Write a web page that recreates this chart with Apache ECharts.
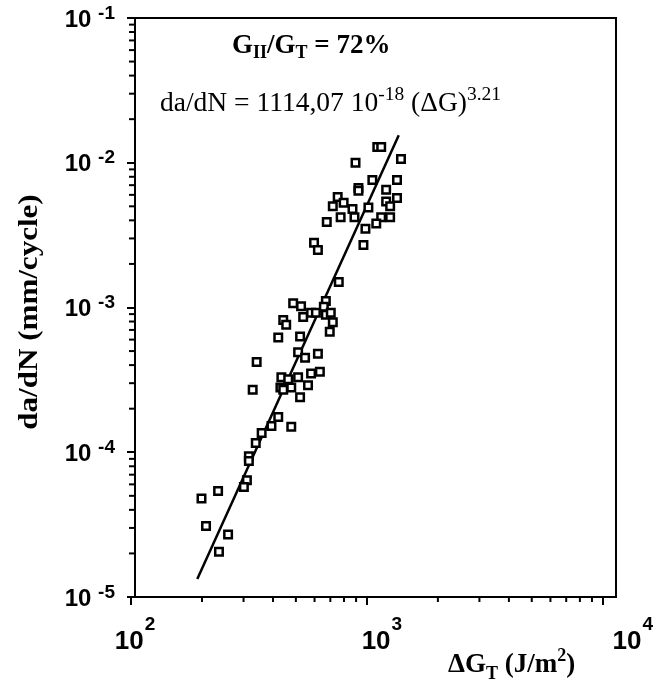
<!DOCTYPE html>
<html>
<head>
<meta charset="utf-8">
<script src="https://cdn.jsdelivr.net/npm/echarts@6/dist/echarts.min.js"></script>
<style>
html,body{margin:0;padding:0;background:#fff;}
#chart{width:656px;height:685px;}
</style>
</head>
<body>
<div id="chart"></div>
<script>
// Measured points: ΔG_T (J/m²) and da/dN (mm/cycle)
const deltaG = [
  1107, 1150, 1395, 895, 1055, 1342, 921, 921, 1207, 1342, 1207, 1255, 1015,
  752, 797, 869, 717, 774, 886, 1150, 1255, 1096, 986, 967, 676, 597, 620,
  760, 670, 657,
  487, 526, 442, 455, 421, 537, 580, 608, 670, 703, 717, 696, 521, 511, 547,
  620, 580, 632, 434, 464, 511, 563, 430, 442, 478, 521, 421, 478, 341, 328,
  394, 358, 338, 316, 316, 310, 301, 234, 199, 208, 258, 236
];
const dadN = [
  0.01285, 0.01285, 0.0106, 0.0100, 0.0076, 0.0076, 0.0067, 0.0064, 0.0065, 0.0057, 0.0054, 0.0050, 0.0049,
  0.0058, 0.0053, 0.0048, 0.0050, 0.0042, 0.0042, 0.0042, 0.0042, 0.0038, 0.0035, 0.0027, 0.0039, 0.0028, 0.0025,
  0.0015, 0.00111, 0.00101,
  0.00107, 0.00102, 0.00082, 0.00076, 0.00062, 0.00086, 0.00092, 0.00092, 0.00089, 0.00092, 0.00079, 0.00068, 0.00063, 0.00049, 0.00045,
  0.00048, 0.00035, 0.00036, 0.00033, 0.00032, 0.00033, 0.00029, 0.00028, 0.00027, 0.00028, 0.00024, 0.000175, 0.00015, 0.00042, 0.00027,
  0.000152, 0.000136, 0.000116, 0.000094, 0.000087, 0.000064, 0.0000575, 0.000054, 0.000048, 0.000031, 0.000027, 0.0000205
];
// Fitted power-law line end points
const fitG = [191, 1365];
const fitRate = [1.33e-5, 0.0155];
// Axis ranges and minor ticks
const xRange = [100, 10000];
const yRange = [1e-5, 1e-1];
const xMinor = [200,300,400,500,600,700,800,900,2000,3000,4000,5000,6000,7000,8000,9000];
const yMinor = [];
[1e-5,1e-4,1e-3,1e-2].forEach(function(d){ for (let k=2;k<=9;k++) yMinor.push(d*k); });

const chart = echarts.init(document.getElementById('chart'), null, {renderer:'canvas'});

const points = deltaG.map((g,i)=>[g, dadN[i]]);
const fitLine = fitG.map((g,i)=>[g, fitRate[i]]);

const sansBold = {fontFamily:'Liberation Sans', fontWeight:'bold', color:'#000'};
const serif = 'Liberation Serif';
const Y_AXIS_SHIFT = 4;

chart.setOption({
  animation:false,
  backgroundColor:'#fff',
  grid:{left:131, top:18, width:477, height:579, show:false},
  xAxis:{
    type:'log', logBase:10, min:xRange[0], max:xRange[1],
    axisLine:{show:false},
    axisTick:{show:true, inside:false, length:8, lineStyle:{color:'#000', width:2}},
    splitLine:{show:false},
    axisLabel:{
      margin:18,
      formatter: function(v){
        const e = Math.round(Math.log10(v));
        return '{b' + e + '|10}{e|' + e + '}';
      },
      rich:{
        b2:Object.assign({fontSize:26, lineHeight:40, verticalAlign:'bottom', padding:[0,0,0,8]}, sansBold),
        b3:Object.assign({fontSize:26, lineHeight:40, verticalAlign:'bottom', padding:[0,0,0,30]}, sansBold),
        b4:Object.assign({fontSize:26, lineHeight:40, verticalAlign:'bottom', padding:[0,0,0,60]}, sansBold),
        e:Object.assign({fontSize:19, verticalAlign:'top', padding:[0,0,0,1]}, sansBold)
      }
    }
  },
  yAxis:{
    type:'log', logBase:10, min:yRange[0], max:yRange[1],
    offset:-Y_AXIS_SHIFT,
    axisLine:{show:false},
    axisTick:{show:true, inside:false, length:8, lineStyle:{color:'#000', width:2}},
    splitLine:{show:false},
    axisLabel:{
      margin:20,
      formatter: function(v){ return '{b|10 }{e|' + Math.round(Math.log10(v)) + '}'; },
      rich:{
        b:Object.assign({fontSize:24, lineHeight:28, verticalAlign:'bottom'}, sansBold),
        e:Object.assign({fontSize:19, verticalAlign:'top'}, sansBold)
      }
    }
  },
  series:[
    {
      type:'custom',
      coordinateSystem:'cartesian2d',
      clip:false,
      silent:true,
      z:1,
      data: xMinor.map(v=>[v, yRange[0]]).concat(yMinor.map(v=>[xRange[0], v])),
      renderItem:function(params, api){
        const i = params.dataIndex;
        const p = api.coord([api.value(0), api.value(1)]);
        let shape;
        if (i < xMinor.length) shape = {x1:p[0], y1:p[1], x2:p[0], y2:p[1]+5};
        else shape = {x1:p[0]+Y_AXIS_SHIFT, y1:p[1], x2:p[0]+Y_AXIS_SHIFT-6, y2:p[1]};
        return {type:'line', shape:shape, style:{stroke:'#000', lineWidth:2}};
      }
    },
    {
      type:'line',
      data: fitLine,
      symbol:'none',
      lineStyle:{color:'#000', width:2.5},
      z:2
    },
    {
      type:'scatter',
      data: points,
      symbol:'rect',
      symbolSize:7.5,
      itemStyle:{color:'#fff', borderColor:'#000', borderWidth:2.5, opacity:1},
      z:3
    }
  ],
  graphic:[
    {
      type:'rect', z:0, silent:true,
      shape:{x:135, y:18, width:481, height:579},
      style:{fill:'none', stroke:'#000', lineWidth:2}
    },
    {
      type:'text', x:232, y:46, z:10,
      style:{
        text:'{a|G}{s|II}{a|/G}{s|T}{a| = 72%}',
        align:'left', verticalAlign:'middle',
        rich:{
          a:{fontFamily:serif, fontWeight:'bold', fontSize:27, lineHeight:33, verticalAlign:'middle', fill:'#000'},
          s:{fontFamily:serif, fontWeight:'bold', fontSize:18, verticalAlign:'bottom', fill:'#000'}
        }
      }
    },
    {
      type:'text', x:160, y:104, z:10,
      style:{
        text:'{a|da/dN = 1114,07 10}{p|-18}{a| (ΔG)}{p|3.21}',
        align:'left', verticalAlign:'middle',
        rich:{
          a:{fontFamily:serif, fontSize:27.5, lineHeight:38, verticalAlign:'middle', fill:'#000'},
          p:{fontFamily:serif, fontSize:19.5, verticalAlign:'top', fill:'#000'}
        }
      }
    },
    {
      type:'text', x:30, y:312, z:10,
      rotation:Math.PI/2,
      scaleX:1.15,
      style:{
        text:'da/dN (mm/cycle)',
        align:'center', verticalAlign:'middle',
        fontFamily:serif, fontWeight:'bold', fontSize:27, fill:'#000'
      }
    },
    {
      type:'text', x:448, y:665, z:10,
      style:{
        text:'{a|ΔG}{s|T}{a| (J/m}{p|2}{a|)}',
        align:'left', verticalAlign:'middle',
        rich:{
          a:{fontFamily:serif, fontWeight:'bold', fontSize:27, lineHeight:36, verticalAlign:'middle', fill:'#000'},
          s:{fontFamily:serif, fontWeight:'bold', fontSize:18, verticalAlign:'bottom', fill:'#000'},
          p:{fontFamily:serif, fontWeight:'bold', fontSize:18, verticalAlign:'top', fill:'#000'}
        }
      }
    }
  ]
});
</script>
</body>
</html>
